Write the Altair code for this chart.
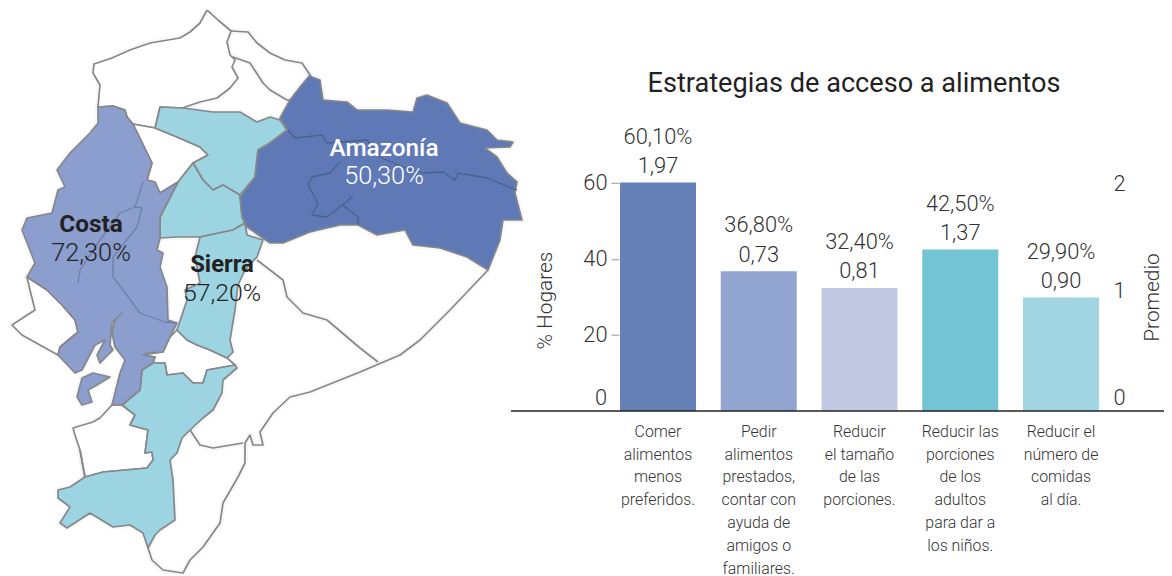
import altair as alt

FONT = "Roboto"
TXT = "#333333"

# The page squeezes the 1164 px wide drawing into 1156 px and centres it vertically.
W, H = 1164, 572
S = 1156 / W
TOP = 8 + (H - H * S) / 2
def px(p):
    return (p - 8) / S
def py(p):
    return (p - TOP) / S

# ---------- bar data ----------
categories = ["Comer", "Pedir", "Reducir tamaño", "Reducir adultos", "Reducir número"]
category_lines = [
    ["Comer", "alimentos", "menos", "preferidos."],
    ["Pedir", "alimentos", "prestados,", "contar con", "ayuda de", "amigos o", "familiares."],
    ["Reducir", "el tamaño", "de las", "porciones."],
    ["Reducir las", "porciones", "de los", "adultos", "para dar a", "los niños."],
    ["Reducir el", "número de", "comidas", "al día."],
]
hogares = [60.1, 36.8, 32.4, 42.5, 29.9]
promedio = [1.97, 0.73, 0.81, 1.37, 0.90]
pct_labels = ["60,10%", "36,80%", "32,40%", "42,50%", "29,90%"]
prom_labels = ["1,97", "0,73", "0,81", "1,37", "0,90"]
bar_colors = ["#6680b8", "#92a5d0", "#c1c9e3", "#74c5d4", "#a1d5e2"]

# ---------- map outlines ----------
amazonia = [(310,75),(312,77),(320,80),(323,100),(347,102),(357,110),(387,110),(413,112),(417,98),(427,95),(447,103),(460,123),(487,130),(497,140),(513,142),(510,147),(485,148),(497,157),(507,173),(517,182),(515,193),(522,220),(503,220),(500,240),(488,270),(467,257),(440,248),(413,245),(405,230),(377,235),(358,225),(340,225),(310,232),(283,243),(270,243),(247,227),(242,217),(240,197),(255,177),(258,150),(270,143),(287,130),(280,118),(290,100),(300,87)]
sierra_n = [(160,107),(183,108),(213,112),(240,112),(257,122),(270,117),(280,120),(287,130),(270,143),(258,150),(255,177),(240,195),(223,185),(213,190),(203,180),(193,163),(208,155),(200,147),(177,137),(155,128),(157,120)]
sierra_c = [(193,163),(203,180),(213,190),(223,185),(240,195),(242,217),(245,223),(233,230),(200,237),(177,237),(160,238),(160,217),(178,182)]
sierra_m = [(245,223),(247,235),(263,240),(257,257),(245,270),(238,285),(235,310),(230,340),(233,352),(227,358),(210,350),(197,345),(187,340),(177,330),(187,300),(185,290),(200,283),(195,257),(200,237),(233,230)]
sierra_s = [(153,363),(165,363),(167,375),(183,373),(193,383),(203,383),(207,370),(235,365),(237,368),(223,380),(222,393),(213,410),(203,418),(190,430),(182,438),(177,453),(170,460),(173,480),(175,520),(160,530),(155,535),(148,548),(143,533),(130,525),(113,527),(90,513),(67,528),(60,523),(70,507),(58,498),(58,490),(70,487),(85,477),(103,472),(147,468),(153,460),(152,452),(145,453),(148,430),(130,425),(135,415),(122,405),(140,390),(142,370)]
costa = [(98,107),(113,106),(125,110),(127,117),(133,124),(152,163),(147,180),(155,182),(160,193),(178,182),(160,217),(160,238),(157,250),(163,253),(160,267),(167,287),(168,320),(177,323),(170,337),(163,352),(148,353),(143,355),(155,357),(153,363),(142,370),(140,390),(122,405),(112,405),(120,373),(125,360),(115,347),(112,333),(115,320),(122,313),(112,323),(110,345),(113,350),(100,363),(97,355),(105,340),(95,345),(82,370),(75,373),(58,355),(60,347),(78,332),(75,320),(62,305),(47,290),(27,277),(35,263),(22,230),(27,218),(52,213),(58,190),(65,187),(57,170),(70,153),(90,133),(98,123)]
puna = [(110,377),(93,373),(82,378),(77,397),(82,405),(92,402),(88,390),(97,385)]
esmeraldas = [(98,107),(100,85),(93,73),(94,64),(112,58),(130,50),(150,43),(180,38),(190,32),(200,23),(207,10),(218,20),(231,31),(227,42),(230,55),(235,60),(232,67),(238,78),(230,88),(217,98),(200,102),(185,107),(183,108),(160,107),(157,120),(155,128),(133,124),(127,117),(125,110),(113,106)]
sto_domingo = [(133,124),(155,128),(177,137),(200,147),(208,155),(193,163),(178,182),(160,193),(155,182),(147,180),(152,163)]
el_oro = [(112,405),(122,405),(135,415),(130,425),(148,430),(145,453),(152,452),(153,460),(147,468),(103,472),(85,477),(80,450),(75,435),(73,428),(93,422),(100,418)]
santa_elena = [(27,277),(47,290),(62,305),(75,320),(78,332),(60,347),(58,355),(40,345),(22,335),(12,325),(35,310),(30,290)]
azuay = [(177,330),(187,340),(197,345),(210,350),(227,358),(235,365),(207,370),(203,383),(193,383),(183,373),(167,375),(165,363),(153,363),(155,357),(143,355),(163,352),(170,337)]

lines_grey = [
    [(231,31),(248,32),(257,43),(270,53),(285,60),(302,63),(310,75)],
    [(233,57),(250,63),(263,83),(270,90),(287,100),(290,100)],
    [(257,260),(270,270),(283,280),(287,297),(303,313),(327,320),(360,348),(378,362)],
    [(488,270),(450,310),(420,340),(400,355),(360,372),(310,392),(290,397),(273,413),(260,432),(263,445),(253,445),(250,435),(245,443),(245,463),(238,477),(223,503),(220,523),(203,547),(190,560),(183,573),(163,570),(152,560),(148,548)],
    [(190,430),(200,445),(213,448),(243,443)],
    [(80,450),(85,477)],
]
lines_amazonia = [
    [(288,130),(295,138),(322,135),(327,143),(367,140),(380,157),(403,167),(423,173),(443,172),(455,180),(458,173),(487,178),(517,190)],
    [(340,162),(330,173),(312,177),(308,185),(318,203),(312,215),(327,217),(345,203),(352,197),(343,205),(358,217),(358,225)],
]
lines_costa = [
    [(143,182),(135,207),(120,213),(100,240),(80,270),(78,283)],
    [(142,208),(137,227),(113,257),(113,277),(123,290),(140,313),(165,322),(177,323)],
    [(135,207),(142,208)],
]

map_labels = ["Costa", "72,30%", "Sierra", "57,20%", "Amazonía", "50,30%"]
map_label_x = [91, 91, 222, 222, 384, 384]
map_label_y = [225, 253, 265, 293, 149, 176]
map_label_size = [24.5, 25.5, 24, 25, 24.5, 25.5]
map_label_weight = [700, 300, 700, 300, 500, 300]
map_label_color = ["#222222", "#222222", "#222222", "#222222", "#ffffff", "#ffffff"]

# ---------- map helpers ----------
PROJ = dict(type="identity", scale=1 / S, translate=[px(0), py(0)])

def poly(points):
    ring = [list(p) for p in points]
    ring.append(ring[0])
    return {"type": "Feature", "properties": {}, "geometry": {"type": "Polygon", "coordinates": [ring]}}

def line(points):
    return {"type": "Feature", "properties": {}, "geometry": {"type": "LineString", "coordinates": [list(p) for p in points]}}

def shapes(features, fill, stroke="#85878a", width=1.7, opacity=1):
    kw = {"fill": fill} if fill else {"filled": False}
    return alt.Chart(alt.Data(values=features)).mark_geoshape(
        stroke=stroke, strokeWidth=width, strokeJoin="round", strokeOpacity=opacity, **kw
    ).project(**PROJ)

all_polys = [esmeraldas, sto_domingo, el_oro, santa_elena, azuay, sierra_n, sierra_c, sierra_m, sierra_s, costa, puna, amazonia]
geo_layers = [
    shapes([poly(p) for p in all_polys] + [line(l) for l in lines_grey], None, "#c4c7ce", 6, 0.12),
    shapes([poly(p) for p in [esmeraldas, sto_domingo, el_oro, santa_elena, azuay]], "#ffffff"),
    shapes([line(l) for l in lines_grey], None),
    shapes([poly(p) for p in [sierra_n, sierra_c, sierra_m, sierra_s]], "#9dd4e1"),
    shapes([poly(p) for p in [costa, puna]], "#8c9ecd"),
    shapes([poly(amazonia)], "#5f79b6"),
    shapes([line(l) for l in lines_costa], None, "#6f7fa8", 1.3),
    shapes([line(l) for l in lines_amazonia], None, "#4c6090", 1.3),
]

map_rows = [dict(t=t, lon=x, lat=y, s=s, w=w, c=c) for t, x, y, s, w, c in
            zip(map_labels, map_label_x, map_label_y, map_label_size, map_label_weight, map_label_color)]
map_text = [
    alt.Chart(alt.Data(values=[r]))
    .mark_text(font=FONT, fontSize=r["s"], fontWeight=r["w"], color=r["c"], align="center", baseline="middle")
    .encode(longitude="lon:Q", latitude="lat:Q", text="t:N")
    .project(**PROJ)
    for r in map_rows
]

# ---------- scales: page pixel 411 is zero, 3.8 px per percent ----------
def y_domain(zero_px, per_unit):
    return [(zero_px - (TOP + H * S)) / per_unit, (zero_px - TOP) / per_unit]

y_left = alt.Scale(domain=y_domain(411, 3.8), range=[H, 0], nice=False, zero=False)
y_right = alt.Scale(domain=y_domain(398, 107), range=[H, 0], nice=False, zero=False)
x_scale = alt.Scale(domain=categories, range=[px(607.6), px(1111.4)], paddingInner=0.2457, paddingOuter=0.123)
x_none = alt.X("cat:N", scale=x_scale, axis=None, sort=None)

rows = [dict(cat=c, lines=l, hog=h, prom=p, pl=a, ql=b, col=k) for c, l, h, p, a, b, k in
        zip(categories, category_lines, hogares, promedio, pct_labels, prom_labels, bar_colors)]
base = alt.Chart(alt.Data(values=rows))

TICK_SIZE = 22

bars = base.mark_bar(size=76 / S).encode(
    x=x_none,
    y=alt.Y("hog:Q", scale=y_left, title="% Hogares",
            axis=alt.Axis(orient="left", offset=-(px(619)), values=[20, 40, 60], domain=False, grid=False,
                          tickSize=8, tickColor="#999999", tickWidth=1, labelPadding=4,
                          labelFont=FONT, labelFontSize=TICK_SIZE, labelFontWeight=300, labelColor=TXT,
                          titleFont=FONT, titleFontSize=21, titleFontWeight=300, titleColor=TXT,
                          titleX=px(546) - px(619), titleY=py(300), titleAngle=270,
                          titleAlign="center", titleBaseline="middle")),
    y2=alt.Y2(datum=0),
    color=alt.Color("col:N", scale=None),
)

pct_text = base.mark_text(font=FONT, fontSize=22, fontWeight=300, color=TXT, dy=-46, baseline="middle").encode(
    x=x_none, y=alt.Y("hog:Q", scale=y_left, axis=None), text="pl:N")
prom_text = base.mark_text(font=FONT, fontSize=22, fontWeight=300, color=TXT, dy=-16.5, baseline="middle").encode(
    x=x_none, y=alt.Y("hog:Q", scale=y_left, axis=None), text="ql:N")

cat_text = base.mark_text(font=FONT, fontSize=16, fontWeight=300, color=TXT, dy=13, baseline="top",
                          align="center", lineHeight=23).encode(
    x=x_none, y=alt.Y(datum=0, scale=y_left, axis=None), text="lines:N")

zero_left = alt.Chart(alt.Data(values=[{"t": "0"}])).mark_text(
    font=FONT, fontSize=TICK_SIZE, fontWeight=300, color=TXT, align="right", baseline="middle", dy=-13
).encode(x=alt.value(px(607)), y=alt.Y(datum=0, scale=y_left, axis=None), text="t:N")

baseline_rule = alt.Chart(alt.Data(values=[{"a": 0}])).mark_rule(color="#222222", strokeWidth=1.5).encode(
    x=alt.value(px(511)), x2=alt.value(W), y=alt.Y(datum=0, scale=y_left, axis=None))

right = base.mark_point(opacity=0).encode(
    x=x_none,
    y=alt.Y("prom:Q", scale=y_right, title="Promedio",
            axis=alt.Axis(orient="right", offset=-(W - px(1113)), values=[0, 1, 2], format="d", domain=False, ticks=False,
                          grid=False, labelPadding=0, labelAlign="left",
                          labelFont=FONT, labelFontSize=TICK_SIZE, labelFontWeight=300, labelColor=TXT,
                          titleFont=FONT, titleFontSize=21, titleFontWeight=300, titleColor=TXT,
                          titleX=px(1153) - px(1113), titleY=py(297), titleAngle=270,
                          titleAlign="center", titleBaseline="middle")),
)

title_text = alt.Chart(alt.Data(values=[{"t": "Estrategias de acceso a alimentos"}])).mark_text(
    font=FONT, fontSize=27.3, fontWeight=400, color="#222222", align="center", baseline="middle"
).encode(x=alt.value(px(854)), y=alt.value(py(84)), text="t:N")

chart = alt.layer(*geo_layers, *map_text, bars, pct_text, prom_text, cat_text, zero_left, baseline_rule, right, title_text
).resolve_scale(y="independent", color="independent").properties(
    width=W, height=H, padding=0,
    autosize=alt.AutoSizeParams(type="none", contains="padding"),
).configure_view(stroke=None)

chart.save("out.html", embed_options={"renderer": "svg", "actions": False})
